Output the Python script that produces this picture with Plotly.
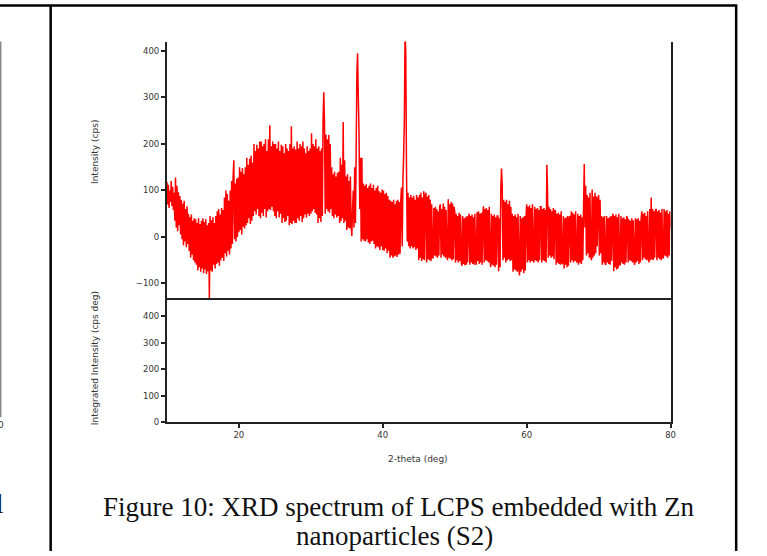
import plotly.graph_objects as go

# ---------------- data ----------------
start_deg = 10.0
step_deg = 0.1
intensity = (
    [118, 70, 112, 62, 100, 75, 120, 66, 108, 58] +          # 10
    [95, 35, 128, 20, 110, 12, 96, 25, 88, 5] +              # 11
    [80, -5, 72, -18, 78, -10, 60, -22, 66, -15] +           # 12
    [50, -30, 42, -45, 48, -38, 35, -50, 40, -55] +          # 13
    [38, -60, 30, -72, 40, -65, 28, -75, 35, -68] +          # 14
    [40, -78, 32, -70, 38, -80, 25, -74, 30, -135] +         # 15
    [45, -72, 36, -75, 42, -60, 30, -68, 45, -58] +          # 16
    [55, -55, 60, -62, 48, -50, 62, -45, 58, -52] +          # 17
    [85, -35, 100, -42, 92, -30, 78, -38, 100, -25] +        # 18
    [120, -15, 130, 165, -5, 115, -10, 125, 0, 128] +        # 19
    [10, 150, 15, 140, 5, 148, 22, 135, 18, 150] +           # 20
    [25, 170, 30, 155, 40, 168, 28, 175, 35, 160] +          # 21
    [45, 200, 55, 185, 48, 198, 60, 190, 45, 205] +          # 22
    [40, 205, 52, 195, 45, 200, 60, 210, 42, 185] +          # 23
    [55, 210, 60, 240, 58, 195, 65, 205, 55, 200] +          # 24
    [45, 200, 40, 190, 55, 205, 42, 185, 50, 198] +          # 25
    [30, 195, 40, 180, 32, 200, 35, 190, 45, 185] +          # 26
    [25, 200, 30, 238, 28, 190, 35, 195, 30, 188] +          # 27
    [30, 205, 40, 190, 35, 200, 45, 195, 32, 205] +          # 28
    [40, 190, 48, 180, 42, 195, 50, 185, 45, 190] +          # 29
    [50, 223, 55, 200, 60, 195, 52, 210, 48, 190] +          # 30
    [30, 195, 40, 185, 32, 190, 45, 250, 311, 250] +         # 31
    [50, 220, 60, 210, 55, 219, 52, 200, 60, 150] +          # 32
    [45, 135, 40, 140, 48, 130, 42, 138, 45, 140] +          # 33
    [30, 170, 35, 155, 40, 247, 30, 165, 35, 130] +          # 34
    [15, 135, 20, 120, 18, 130, 25, 2, 60, 100] +            # 35
    [20, 150, 30, 180, 350, 395, 300, 225, 60, 170] +        # 36
    [-10, 170, -5, 115, -8, 110, -10, 113, -5, 105] +        # 37
    [-12, 110, -15, 115, -10, 105, -8, 112, -15, 100] +      # 38
    [-25, 105, -20, 110, -22, 98, -28, 95, -20, 102] +       # 39
    [-28, 100, -30, 92, -25, 95, -35, 88, -30, 80] +         # 40
    [-45, 78, -40, 75, -45, 80, -42, 70, -40, 77] +          # 41
    [-43, 80, -38, 75, -36, 78, 106, -20, 120, 176] +        # 42
    [250, 450, 390, 140, -10, 95, -20, 85, -25, 90] +        # 43
    [-20, 85, -25, 88, -22, 80, -28, 90, -25, 85] +          # 44
    [-50, 90, -45, 95, -52, 85, -48, 98, -50, 88] +          # 45
    [95, -55, 87, -48, 90, -50, 80, -52, 70, -45] +          # 46
    [-45, 62, -40, 65, -42, 60, -45, 55, -40, 64] +          # 47
    [70, -45, 60, -38, 72, -42, 65, -45, 58, -40] +          # 48
    [-50, 81, -45, 70, -47, 75, -50, 72, -48, 65] +          # 49
    [55, -55, 50, -50, 45, -55, 52, -52, 48, -55] +          # 50
    [-62, 45, -58, 40, -61, 42, -60, 45, -55, 38] +          # 51
    [50, -60, 45, -55, 48, -58, 42, -60, 50, -52] +          # 52
    [-60, 53, -52, 55, -58, 50, -55, 52, -60, 48] +          # 53
    [66, -55, 60, -50, 62, -52, 58, -55, 65, -48] +          # 54
    [-65, 50, -60, 45, -62, 48, -65, 42, -60, 45] +          # 55
    [45, -74, 40, -65, 100, 147, 110, -50, 80, -45] +        # 56
    [75, -55, 80, -50, 70, -48, 78, -52, 65, -50] +          # 57
    [50, -75, 45, -70, 48, -72, 42, -75, 50, -68] +          # 58
    [-83, 45, -75, 40, -70, 42, -78, 45, -72, 40] +          # 59
    [70, -55, 65, -50, 68, -55, 62, -52, 70, -50] +          # 60
    [-55, 65, -50, 60, -52, 62, -55, 58, -50, 65] +          # 61
    [65, -55, 60, -50, 62, -52, 58, -55, 155, 100] +         # 62
    [-45, 65, -40, 60, -45, 55, -42, 62, -48, 58] +          # 63
    [55, -60, 50, -55, 52, -58, 48, -60, 55, -55] +          # 64
    [-58, 45, -68, 40, -60, 42, -65, 45, -62, 40] +          # 65
    [45, -55, 55, -50, 52, -55, 48, -52, 55, -50] +          # 66
    [-55, 50, -60, 45, -55, 48, -58, 42, -50, 60] +          # 67
    [157, 20, 110, -40, 90, -35, 85, -45, 95, -40] +         # 68
    [-50, 102, -45, 87, -40, 95, -35, 87, -20, 80] +         # 69
    [90, -40, 80, -35, 45, -60, 42, -55, 45, -58] +          # 70
    [-60, 45, -55, 40, -58, 42, -60, 45, -52, 40] +          # 71
    [50, -74, 45, -65, 48, -70, 42, -68, 50, -60] +          # 72
    [-60, 45, -55, 40, -58, 42, -60, 38, -55, 45] +          # 73
    [40, -55, 38, -50, 35, -52, 40, -55, 36, -50] +          # 74
    [-60, 40, -55, 38, -52, 40, -58, 35, -55, 38] +          # 75
    [55, -50, 50, -45, 52, -48, 45, -50, 55, -45] +          # 76
    [-55, 60, -50, 85, -48, 60, -50, 55, -45, 58] +          # 77
    [60, -50, 55, -45, 58, -48, 52, -50, 60, -45] +          # 78
    [-45, 60, -40, 55, -42, 58, -45, 50, -40, 55] +          # 79
    [20]                                                      # 80
)
two_theta = [round(start_deg + step_deg * i, 2) for i in range(len(intensity))]

x_ticks = [20, 40, 60, 80]
y_ticks_top = [-100, 0, 100, 200, 300, 400]
y_ticks_bottom = [0, 100, 200, 300, 400]

x_title = "2-theta (deg)"
y_title_top = "Intensity (cps)"
y_title_bottom = "Integrated Intensity (cps deg)"
caption_1 = "Figure 10: XRD spectrum of LCPS embedded with Zn"
caption_2 = "nanoparticles (S2)"

# ---------------- layout helpers ----------------
W, H = 767, 556
def px(x):
    return x / W
def py(y):
    return 1 - y / H

tick_font = dict(family="DejaVu Sans", size=8.5, color="#333")
axis_col = "#222"

fig = go.Figure()
fig.add_trace(go.Scatter(
    x=two_theta, y=intensity, mode="lines",
    line=dict(color="#ff0000", width=1.5, simplify=False),
    xaxis="x", yaxis="y", showlegend=False, hoverinfo="skip",
))
# empty bottom panel
fig.add_trace(go.Scatter(x=[], y=[], xaxis="x2", yaxis="y2", showlegend=False))

xdom = [px(168), px(675)]
fig.update_layout(
    width=W, height=H,
    margin=dict(l=0, r=0, t=0, b=0),
    paper_bgcolor="white", plot_bgcolor="white",
    xaxis=dict(domain=xdom, anchor="y", range=[10, 80], showticklabels=False,
               ticks="", showgrid=False, zeroline=False,
               showline=True, linecolor=axis_col, linewidth=2, mirror=False),
    yaxis=dict(domain=[py(301), py(42)], anchor="x", range=[-132, 420],
               tickvals=y_ticks_top, ticks="outside", ticklen=4, tickwidth=1.5,
               tickcolor=axis_col, tickfont=tick_font, showgrid=False,
               zeroline=False, showline=True, linecolor=axis_col, linewidth=2,
               mirror=True),
    xaxis2=dict(domain=xdom, anchor="y2", range=[10, 80], matches="x",
                tickvals=x_ticks, ticks="outside", ticklen=4, tickwidth=1.5,
                tickcolor=axis_col, tickfont=tick_font, showgrid=False,
                zeroline=False, showline=True, linecolor=axis_col, linewidth=2,
                mirror=False),
    yaxis2=dict(domain=[py(426), py(301)], anchor="x2", range=[0, 468],
                tickvals=y_ticks_bottom, ticks="outside", ticklen=4, tickwidth=1.5,
                tickcolor=axis_col, tickfont=tick_font, showgrid=False,
                zeroline=False, showline=True, linecolor=axis_col, linewidth=2,
                mirror=True),
)

title_font = dict(family="DejaVu Sans", size=9, color="#333")
serif = dict(family="Liberation Serif", size=27, color="#111")
annotations = [
    dict(text=y_title_top, x=px(95), y=py(153), textangle=-90, font=title_font),
    dict(text=y_title_bottom, x=px(95), y=py(361), textangle=-90, font=title_font),
    dict(text=x_title, x=px(421), y=py(463), font=title_font),
    dict(text=caption_1, x=px(401), y=py(512), font=serif),
    dict(text=caption_2, x=px(397), y=py(541), font=serif),
    dict(text="0", x=px(1), y=py(429), font=title_font),
    dict(text="l", x=px(0), y=py(509), font=serif),
]
for a in annotations:
    a.update(xref="paper", yref="paper", showarrow=False,
             xanchor="center", yanchor="middle")
fig.update_layout(annotations=annotations)

shapes = [
    dict(x0=0, x1=px(742), y0=py(5.5), y1=py(5.5), line=dict(color="black", width=2.5)),
    dict(x0=px(51), x1=px(51), y0=py(5), y1=0, line=dict(color="black", width=2.5)),
    dict(x0=px(741), x1=px(741), y0=py(5), y1=0, line=dict(color="black", width=2.5)),
    dict(x0=px(0.7), x1=px(0.7), y0=py(42), y1=py(421), line=dict(color="#888", width=1.5)),
]
for s in shapes:
    s.update(type="line", xref="paper", yref="paper")
fig.update_layout(shapes=shapes)

fig.write_html("out.html")
